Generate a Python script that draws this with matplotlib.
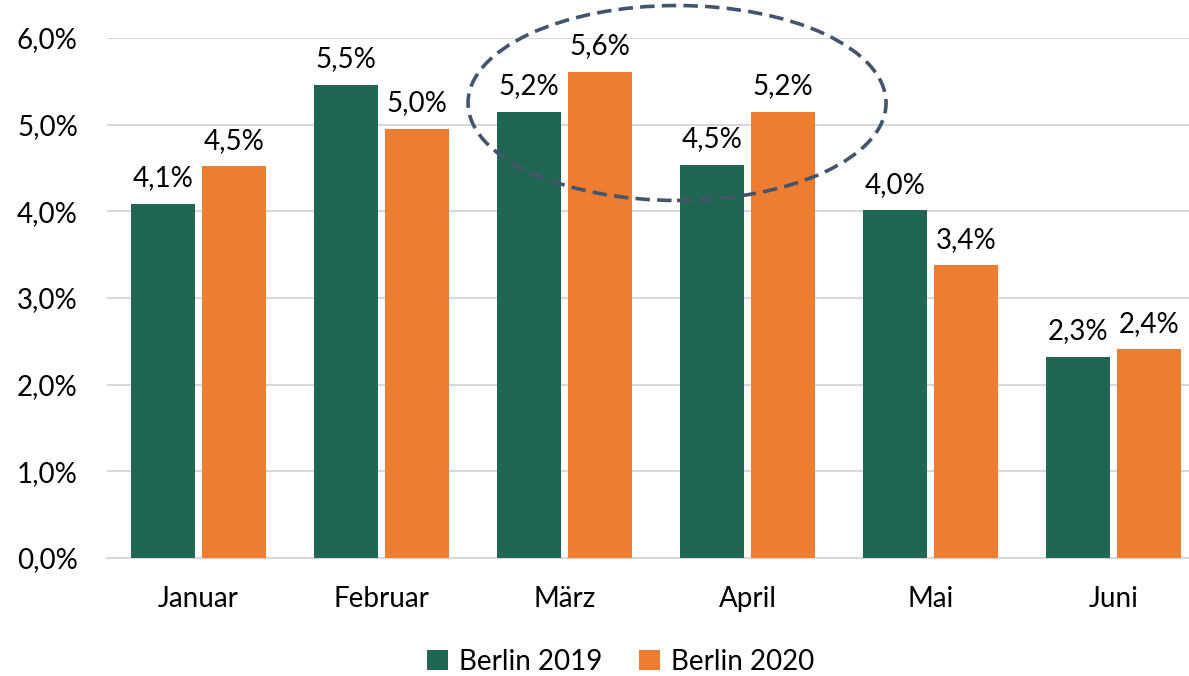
import matplotlib
matplotlib.use("Agg")
import matplotlib.pyplot as plt
from matplotlib.patches import Ellipse
import numpy as np

categories = ["Januar", "Februar", "März", "April", "Mai", "Juni"]
berlin_2019 = [4.09, 5.46, 5.15, 4.54, 4.01, 2.32]
berlin_2020 = [4.52, 4.95, 5.61, 5.15, 3.38, 2.41]
labels_2019 = ["4,1%", "5,5%", "5,2%", "4,5%", "4,0%", "2,3%"]
labels_2020 = ["4,5%", "5,0%", "5,6%", "5,2%", "3,4%", "2,4%"]
yticks = [0, 1, 2, 3, 4, 5, 6]
ytick_labels = ["0,0%", "1,0%", "2,0%", "3,0%", "4,0%", "5,0%", "6,0%"]

plt.rcParams['font.family'] = ['Lato', 'DejaVu Sans']

W, H = 1189, 676
fig = plt.figure(figsize=(W / 100, H / 100), dpi=100)
ax = fig.add_axes([107 / W, (H - 558) / H, (1205 - 107) / W, (558 - 38) / H])

green = "#216653"
orange = "#ED7D31"
x = np.arange(len(categories))
bw = 0.35
off = 0.194
b1 = ax.bar(x - off, berlin_2019, bw, color=green, label="Berlin 2019", zorder=3)
b2 = ax.bar(x + off, berlin_2020, bw, color=orange, label="Berlin 2020", zorder=3)

fs = 20
for xi, v, t in zip(x - off, berlin_2019, labels_2019):
    ax.annotate(t, (xi, v), xytext=(0, 9), textcoords="offset points",
                ha="center", va="bottom", fontsize=fs, color="black")
for xi, v, t in zip(x + off, berlin_2020, labels_2020):
    ax.annotate(t, (xi, v), xytext=(0, 9), textcoords="offset points",
                ha="center", va="bottom", fontsize=fs, color="black")

ax.set_xlim(-0.5, len(categories) - 0.5)
ax.set_ylim(0, 6)
ax.set_yticks(yticks)
ax.set_yticklabels(ytick_labels, fontsize=fs)
ax.set_xticks(x)
ax.set_xticklabels(categories, fontsize=fs)
ax.tick_params(length=0)
ax.tick_params(axis="y", pad=21)
ax.tick_params(axis="x", pad=20)
ax.yaxis.grid(True, color="#D9D9D9", linewidth=1.5, zorder=0)
for s in ["top", "right", "left"]:
    ax.spines[s].set_visible(False)
ax.spines["bottom"].set_color("#D9D9D9")
ax.spines["bottom"].set_linewidth(1.5)

# dashed ellipse highlighting März/April
ell = Ellipse((2.615, 5.25), width=418 / 183.0, height=195 / 86.7, fill=False,
              edgecolor="#44546A", linewidth=2.6, linestyle=(0, (4, 2)), zorder=5,
              clip_on=False)
ax.add_patch(ell)

leg = fig.legend(handles=[b1, b2], loc="center", bbox_to_anchor=(0.522, 1 - 662 / H),
                 ncol=2, frameon=False, fontsize=fs, handlelength=0.75, handleheight=0.75,
                 columnspacing=1.3, handletextpad=0.4)

fig.savefig("out.png", dpi=100)
